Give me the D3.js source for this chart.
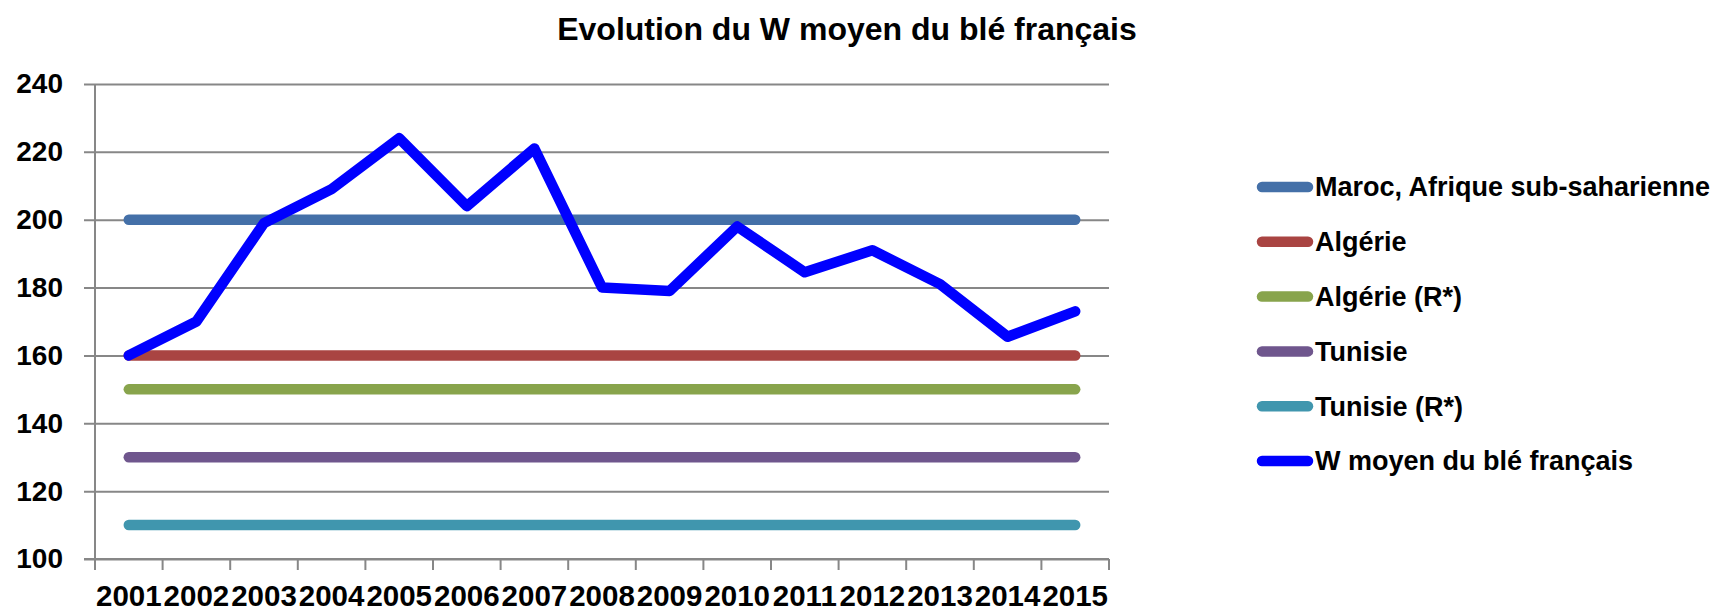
<!DOCTYPE html>
<html>
<head>
<meta charset="utf-8">
<script src="https://cdn.jsdelivr.net/npm/d3@7"></script>
<style>
  body { margin: 0; background: #fff; }
  svg { display: block; }
  text { font-family: "Liberation Sans", Arial, sans-serif; font-weight: bold; fill: #000; }
</style>
</head>
<body>
<svg width="1726" height="612"></svg>
<script>
// data
var years = ["2001","2002","2003","2004","2005","2006","2007","2008","2009","2010","2011","2012","2013","2014","2015"];
var maroc     = [200,200,200,200,200,200,200,200,200,200,200,200,200,200,200];
var algerie   = [160,160,160,160,160,160,160,160,160,160,160,160,160,160,160];
var algerieR  = [150,150,150,150,150,150,150,150,150,150,150,150,150,150,150];
var tunisie   = [130,130,130,130,130,130,130,130,130,130,130,130,130,130,130];
var tunisieR  = [110,110,110,110,110,110,110,110,110,110,110,110,110,110,110];
var wMoyen    = [160,170,199,209,224,204,221,180,179,198,184.5,191,181,165.5,173];
var yTicks    = [100,120,140,160,180,200,220,240];
var seriesNames  = ["Maroc, Afrique sub-saharienne", "Algérie", "Algérie (R*)", "Tunisie", "Tunisie (R*)", "W moyen du blé français"];
var seriesColors = ["#4470a8", "#a94442", "#88a44c", "#6f568d", "#4096ae", "#0000ff"];
var title = "Evolution du W moyen du blé français";

var series = [maroc, algerie, algerieR, tunisie, tunisieR, wMoyen];

var svg = d3.select("svg");
var plotLeft = 95, plotRight = 1109, plotTop = 84, plotBottom = 559;
var gridColor = "#878787";

var x = d3.scaleBand().domain(years).range([plotLeft, plotRight]).padding(0);
var y = d3.scaleLinear().domain([100, 240]).range([plotBottom, plotTop]);

// title
svg.append("text")
    .attr("x", 847).attr("y", 40)
    .attr("text-anchor", "middle")
    .attr("font-size", 32)
    .text(title);

// gridlines + y axis
var yAxis = svg.append("g")
    .attr("transform", "translate(" + plotLeft + ",0)")
    .call(d3.axisLeft(y).tickValues(yTicks).tickSize(11).tickPadding(21));
yAxis.select(".domain").remove();
yAxis.selectAll(".tick line").attr("stroke", gridColor).attr("stroke-width", 2)
    .attr("x2", plotRight - plotLeft).attr("x1", -11);
yAxis.selectAll(".tick text").attr("font-size", 28).attr("font-family", null);

// x axis
var xAxis = svg.append("g")
    .attr("transform", "translate(0," + plotBottom + ")")
    .call(d3.axisBottom(x).tickSize(0).tickPadding(26));
xAxis.select(".domain").remove();
xAxis.selectAll(".tick text").attr("font-size", 29.5).attr("font-family", null);

// category boundary ticks
var bounds = years.map(function(d){ return x(d); }).concat([x(years[years.length-1]) + x.bandwidth()]);
svg.append("g").selectAll("line").data(bounds).enter().append("line")
    .attr("x1", function(d){ return d; }).attr("x2", function(d){ return d; })
    .attr("y1", plotBottom).attr("y2", plotBottom + 11)
    .attr("stroke", gridColor).attr("stroke-width", 2);

// axis lines
svg.append("line").attr("x1", plotLeft).attr("x2", plotLeft).attr("y1", plotTop).attr("y2", plotBottom)
    .attr("stroke", gridColor).attr("stroke-width", 2);
svg.append("line").attr("x1", plotLeft - 11).attr("x2", plotRight).attr("y1", plotBottom).attr("y2", plotBottom)
    .attr("stroke", gridColor).attr("stroke-width", 2);

// series
var line = d3.line()
    .x(function(d, i){ return x(years[i]) + x.bandwidth()/2; })
    .y(function(d){ return y(d); });

svg.append("g").selectAll("path").data(series).enter().append("path")
    .attr("d", line)
    .attr("fill", "none")
    .attr("stroke", function(d, i){ return seriesColors[i]; })
    .attr("stroke-width", 10.5)
    .attr("stroke-linecap", "round")
    .attr("stroke-linejoin", "round");

// legend
var legend = svg.append("g").selectAll("g").data(seriesNames).enter().append("g")
    .attr("transform", function(d, i){ return "translate(0," + (187 + i*54.8) + ")"; });
legend.append("line")
    .attr("x1", 1262).attr("x2", 1308)
    .attr("stroke", function(d, i){ return seriesColors[i]; })
    .attr("stroke-width", 10.5)
    .attr("stroke-linecap", "round");
legend.append("text")
    .attr("x", 1315).attr("dy", "0.35em")
    .attr("font-size", 27)
    .text(function(d){ return d; });
</script>
</body>
</html>
